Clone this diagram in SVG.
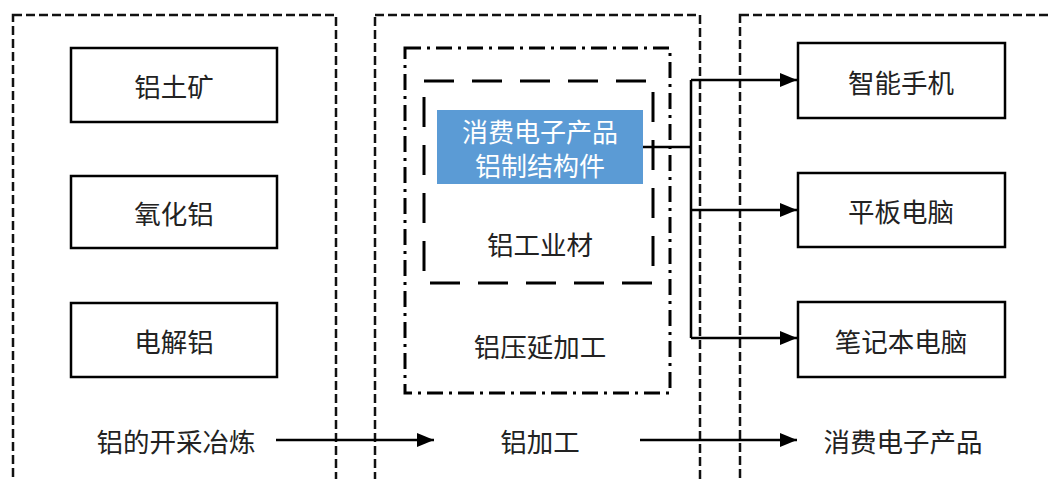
<svg xmlns="http://www.w3.org/2000/svg" width="1052" height="479" viewBox="0 0 1052 479">
<defs>
<marker id="ah" markerWidth="17" markerHeight="14" refX="17" refY="7" orient="auto" markerUnits="userSpaceOnUse">
<path d="M0,0 L17,7 L0,14 Z" fill="#000"/>
</marker>
<style>
text{font-family:"Noto Sans CJK SC","Noto Sans",sans-serif;font-size:26.5px;fill:#222;text-anchor:middle;dominant-baseline:central}
.box{fill:#fff;stroke:#000;stroke-width:2.5}
.panel{fill:none;stroke:#111;stroke-width:2.5;stroke-dasharray:9 4}
.conn{fill:none;stroke:#000;stroke-width:2.5}
</style>
</defs>
<rect width="1052" height="479" fill="#fff"/>
<g id="panel-mining"><rect class="panel" x="13" y="15" width="323" height="480"/></g>
<g id="panel-processing"><rect class="panel" x="375" y="15" width="325" height="480"/></g>
<g id="panel-consumer"><rect class="panel" x="740" y="15" width="330" height="480"/></g>
<g id="rolling"><rect x="405" y="48" width="265" height="345" fill="none" stroke="#000" stroke-width="3" stroke-dasharray="16 6 3 6"/><text x="540" y="345">铝压延加工</text></g>
<g id="industrial"><rect x="424" y="81" width="229" height="202" fill="none" stroke="#000" stroke-width="3" stroke-dasharray="30 18"/><text x="540" y="243">铝工业材</text></g>
<g id="n-bauxite"><rect class="box" x="71" y="48" width="206" height="74"/><text x="174" y="85">铝土矿</text></g>
<g id="n-alumina"><rect class="box" x="71" y="176" width="206" height="72"/><text x="174" y="212">氧化铝</text></g>
<g id="n-electrolytic"><rect class="box" x="71" y="303" width="206" height="74"/><text x="174" y="340">电解铝</text></g>
<g id="n-struct"><rect x="437" y="110" width="206" height="74" fill="#5B9BD5"/><text x="540" y="130" style="fill:#fff;font-size:26px">消费电子产品</text><text x="540" y="164" style="fill:#fff;font-size:26px">铝制结构件</text></g>
<g id="n-phone"><rect class="box" x="798" y="43" width="207" height="75"/><text x="901" y="81">智能手机</text></g>
<g id="n-tablet"><rect class="box" x="798" y="173" width="207" height="74"/><text x="901" y="210">平板电脑</text></g>
<g id="n-laptop"><rect class="box" x="798" y="302" width="207" height="75"/><text x="901" y="340">笔记本电脑</text></g>
<g id="l-mining"><text x="176" y="440">铝的开采冶炼</text></g>
<g id="l-processing"><text x="540" y="440">铝加工</text></g>
<g id="l-consumer"><text x="903" y="440">消费电子产品</text></g>
<g id="connectors">
<path class="conn" d="M643,147 H691"/>
<path class="conn" d="M691,80 V338"/>
<path class="conn" d="M691,80 H797" marker-end="url(#ah)"/>
<path class="conn" d="M691,210 H797" marker-end="url(#ah)"/>
<path class="conn" d="M691,338 H797" marker-end="url(#ah)"/>
<path class="conn" d="M276,440 H434" marker-end="url(#ah)"/>
<path class="conn" d="M640,440 H797" marker-end="url(#ah)"/>
</g>
</svg>
